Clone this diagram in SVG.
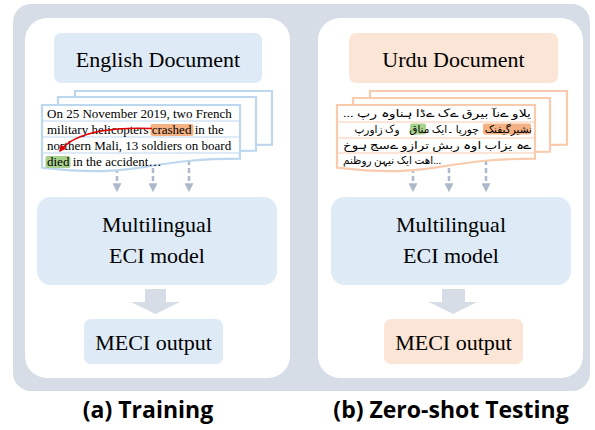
<svg xmlns="http://www.w3.org/2000/svg" width="595" height="430" viewBox="0 0 595 430">
<defs>
<style>
.serif{font-family:"Liberation Serif","Times New Roman",serif;fill:#000}
.title{font-size:22px}
.body{font-size:13px}
.urdu{font-family:"Liberation Serif","DejaVu Sans",serif;font-size:10.5px;fill:#000}
.cap{font-family:"Open Sans","Noto Sans",sans-serif;font-weight:bold;font-size:23px;fill:#000}
.pageL{fill:#fff;stroke:#bdd7ee;stroke-width:2.2}
.pageR{fill:#fff;stroke:#f8cbad;stroke-width:2.2}
.rowL{stroke:#bdd7ee;stroke-width:1}
.rowR{stroke:#f8cbad;stroke-width:1}
.dash{stroke:#adb9ca;stroke-width:2.5;stroke-dasharray:5 3;fill:none;marker-end:url(#tri)}
.blue{fill:#deebf7}
.peach{fill:#fbe5d6}
.gray{fill:#d6dde7}
.orange{fill:#f4b183}
.green{fill:#a9d18e}
</style>
<marker id="tri" viewBox="0 0 10 10" refX="2" refY="5" markerWidth="9" markerHeight="9" markerUnits="userSpaceOnUse" orient="auto">
<path d="M0,0 L10,5 L0,10 z" fill="#adb9ca"/>
</marker>
<marker id="red" viewBox="0 0 10 10" refX="8" refY="5" markerWidth="7" markerHeight="7" markerUnits="userSpaceOnUse" orient="auto">
<path d="M0,0 L10,5 L0,10 z" fill="#e00000"/>
</marker>
</defs>

<g id="background">
<rect x="13" y="4" width="577" height="387" rx="18" class="gray"/>
</g>

<g id="panel-training">
<rect x="25" y="18" width="265" height="360" rx="22" fill="#fff"/>
</g>
<g id="panel-testing">
<rect x="318" y="18" width="265" height="360" rx="22" fill="#fff"/>
</g>

<g id="connectors">
<line class="dash" x1="117" y1="160" x2="117" y2="185"/>
<line class="dash" x1="153" y1="160" x2="153" y2="185"/>
<line class="dash" x1="189" y1="160" x2="189" y2="185"/>
<line class="dash" x1="413" y1="160" x2="413" y2="185"/>
<line class="dash" x1="449" y1="160" x2="449" y2="185"/>
<line class="dash" x1="486" y1="160" x2="486" y2="185"/>
<polygon class="gray" points="145,289 166,289 166,302 180,302 155.5,314 131,302 145,302"/>
<polygon class="gray" points="442,289 465,289 465,302 477,302 453,314 429,302 442,302"/>
</g>

<g id="english-document">
<rect x="54" y="33" width="208" height="50" rx="7" class="blue"/>
<text x="158" y="67" text-anchor="middle" class="serif title">English Document</text>
</g>

<g id="english-pages">
<path class="pageL" d="M75,91 H272 V144.7 C173.5,144.7 173.5,165.2 75,153.6 Z"/>
<path class="pageL" d="M58,97 H256 V150.7 C157,150.7 157,171.2 58,159.6 Z"/>
<path class="pageL" d="M42,105 H240 V158.7 C141,158.7 141,179.2 42,167.6 Z"/>
<line class="rowL" x1="43" y1="121" x2="239" y2="121"/>
<line class="rowL" x1="43" y1="137" x2="239" y2="137"/>
<line class="rowL" x1="43" y1="153" x2="239" y2="153"/>
<rect x="150.5" y="124" width="43" height="12" rx="2" class="orange"/>
<rect x="45.5" y="156" width="25" height="12" rx="2" class="green"/>
<text class="serif body" x="47" y="118">On 25 November 2019, two French</text>
<text class="serif body" x="47" y="134">military helicopters crashed in the</text>
<text class="serif body" x="47" y="150">northern Mali, 13 soldiers on board</text>
<text class="serif body" x="47" y="166">died in the accident…</text>
<path d="M152,128.5 C120,127 76,130 60,151" fill="none" stroke="#e00000" stroke-width="1.5" marker-end="url(#red)"/>
</g>

<g id="urdu-document">
<rect x="349" y="33" width="209" height="50" rx="7" class="peach"/>
<text x="453.5" y="67" text-anchor="middle" class="serif title">Urdu Document</text>
</g>

<g id="urdu-pages">
<path class="pageR" d="M370,91 H567 V144.7 C468.5,144.7 468.5,165.2 370,153.6 Z"/>
<path class="pageR" d="M353,98 H550 V151.7 C451.5,151.7 451.5,172.2 353,160.6 Z"/>
<path class="pageR" d="M337,105 H535 V158.7 C436,158.7 436,179.2 337,167.6 Z"/>
<line class="rowR" x1="338" y1="122" x2="534" y2="122"/>
<line class="rowR" x1="338" y1="138" x2="534" y2="138"/>
<line class="rowR" x1="338" y1="153" x2="534" y2="153"/>
<rect x="483" y="123.5" width="48" height="11" rx="2" class="orange"/>
<rect x="410" y="123.5" width="16" height="11" rx="2" class="green"/>
<text class="urdu" x="343" y="117" direction="rtl" text-anchor="end" textLength="188" lengthAdjust="spacingAndGlyphs">یلاو ےنآ بیرق ےک ےڈا ہناوہ رپ ...</text>
<text class="urdu" y="133" direction="rtl" text-anchor="middle"><tspan x="507">نشیرگیفنک</tspan> <tspan x="454">چورپا ۔ایک</tspan> <tspan x="418">مناق</tspan> <tspan x="377">وک زاورپ</tspan></text>
<text class="urdu" x="343" y="149" direction="rtl" text-anchor="end" textLength="188" lengthAdjust="spacingAndGlyphs">ےہ یزاب اوہ ربش ترازو ےسج ہوخ</text>
<text class="urdu" x="343" y="164" direction="rtl" text-anchor="end" textLength="98" lengthAdjust="spacingAndGlyphs">...اهت ایک نیہن روظنم</text>
</g>

<g id="model-training">
<rect x="37" y="197" width="240" height="88" rx="14" class="blue"/>
<text x="157" y="232" text-anchor="middle" class="serif title">Multilingual</text>
<text x="157" y="263" text-anchor="middle" class="serif title">ECI model</text>
</g>
<g id="model-testing">
<rect x="331" y="197" width="240" height="88" rx="14" class="blue"/>
<text x="451" y="232" text-anchor="middle" class="serif title">Multilingual</text>
<text x="451" y="263" text-anchor="middle" class="serif title">ECI model</text>
</g>

<g id="output-training">
<rect x="84" y="319" width="139" height="45" rx="7" class="blue"/>
<text x="153.5" y="350" text-anchor="middle" class="serif title">MECI output</text>
</g>
<g id="output-testing">
<rect x="384" y="319" width="139" height="45" rx="7" class="peach"/>
<text x="453.5" y="350" text-anchor="middle" class="serif title">MECI output</text>
</g>

<g id="captions">
<text x="148" y="418" text-anchor="middle" class="cap">(a) Training</text>
<text x="451" y="418" text-anchor="middle" class="cap">(b) Zero-shot Testing</text>
</g>
</svg>
